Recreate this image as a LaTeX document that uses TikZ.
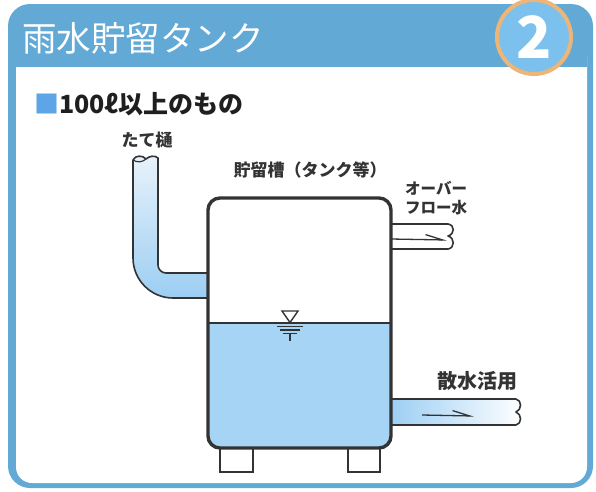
\documentclass[tikz,border=0pt]{standalone}
\usepackage{fontspec}
\setmainfont{Noto Sans CJK JP}
\usepackage{xcolor}
\usetikzlibrary{arrows.meta}
\definecolor{frameblue}{HTML}{62A9D6}
\definecolor{badgeblue}{HTML}{7CC0EE}
\definecolor{badgering}{HTML}{EDB677}
\definecolor{markblue}{HTML}{5DA5E6}
\definecolor{waterblue}{HTML}{A6D4F5}
\definecolor{pipeblue}{HTML}{9CCEF3}
\definecolor{pipetop}{HTML}{E8F2FB}
\definecolor{inkgray}{HTML}{333333}
\tikzset{
  wall/.style={draw=inkgray, line width=3.4pt, rounded corners=12pt},
  pipe/.style={draw=inkgray, line width=1.6pt, line join=round},
  leg/.style={draw=inkgray, line width=1.3pt, fill=white},
  flow/.style={draw=inkgray, line width=1.3pt, -{Straight Barb[left,length=17pt,width=10pt]}},
  lbl/.style={text=inkgray, font=\bfseries\fontsize{17}{20}\selectfont, inner sep=0pt},
  % level mark strokes
  levelmark/.style={draw=inkgray, line width=1.4pt}
}

\begin{document}
\begin{tikzpicture}[x=1pt, y=-1pt]
  \useasboundingbox (0,0) rectangle (596,491);
  \fill[white] (0,0) rectangle (596,491);

  % frame and header band
  \fill[frameblue, rounded corners=22pt] (8,4) rectangle (593,488);
  \fill[white, rounded corners=16pt] (16,40) rectangle (587,483);
  \fill[frameblue] (16,30) rectangle (587,67);
  \node[anchor=west, inner sep=0pt, text=white, font=\fontsize{34.5}{40}\selectfont] (title) at (22,38) {雨水貯留タンク};
  \node[circle, draw=badgering, line width=4pt, fill=badgeblue, minimum size=74pt, inner sep=0pt,
        text=white, font=\bfseries\fontsize{58}{58}\selectfont] (badge) at (534,37) {2};

  \node[anchor=west, inner sep=0pt, text=black!88, font=\bfseries\fontsize{25}{28}\selectfont] (heading) at (34,104)
    {\textcolor{markblue}{■}100ℓ以上のもの};

  % labels
  \node[lbl] (lbldown) at (147,140) {たて樋};
  \node[lbl] (lbltank) at (310,170) {貯留槽（タンク等）};
  \node[lbl, anchor=west, align=left, font=\bfseries\fontsize{15.5}{19}\selectfont] (lblover) at (405,198) {オーバー\\フロー水};
  \node[lbl, font=\bfseries\fontsize{20}{24}\selectfont] (lblspray) at (477,381) {散水活用};

  % downpipe into the tank
  \draw[pipe, top color=pipetop, bottom color=pipeblue]
    (158,158) -- (158,265) .. controls (158,269.4) and (161.6,273) .. (166,273) -- (210,273)
    -- (210,298) -- (173,298) .. controls (151,298) and (133,280) .. (133,258) -- (133,160)
    .. controls (135,155) and (143,155) .. (146,159) .. controls (149,156) and (155,155) .. (158,158) -- cycle;
  \draw[pipe, line width=1.2pt] (133,160) .. controls (137,163) and (143,162) .. (146,159);

  % overflow pipe
  \draw[pipe, fill=white] (390,224) -- (448,224) .. controls (455,225) and (455,234) .. (448,236)
    .. controls (455,238) and (455,248) .. (448,249) -- (390,249);
  \draw[flow] (391,239) -- (447,240);

  % outlet pipe
  \draw[pipe, left color=pipeblue, right color=white] (390,399) -- (516,399) .. controls (522,400) and (522,410) .. (516,412)
    .. controls (522,414) and (522,424) .. (516,425) -- (390,425);
  \draw[flow] (422,415) -- (474,416);

  % legs
  \draw[leg] (220,440) rectangle (253,472);
  \draw[leg] (348,440) rectangle (380,472);

  % tank with stored water
  \begin{scope}
    \clip[rounded corners=12pt] (208,198) rectangle (391,448);
    \fill[white] (208,198) rectangle (391,448);
    \fill[waterblue] (200,323) rectangle (400,460);
  \end{scope}
  \draw[inkgray, line width=1.3pt] (208,323) -- (391,323);
  \draw[wall] (208,198) rectangle (391,448);

  % water level mark
  \draw[levelmark, fill=white, line join=miter] (282,311) -- (298,311) -- (290,322.5) -- cycle;
  \draw[levelmark] (277,326.5) -- (303,326.5);
  \draw[levelmark] (280,330) -- (300,330);
  \draw[levelmark] (283,333.5) -- (297,333.5);
  \draw[levelmark] (290,333.5) -- (290,341);
\end{tikzpicture}
\end{document}
